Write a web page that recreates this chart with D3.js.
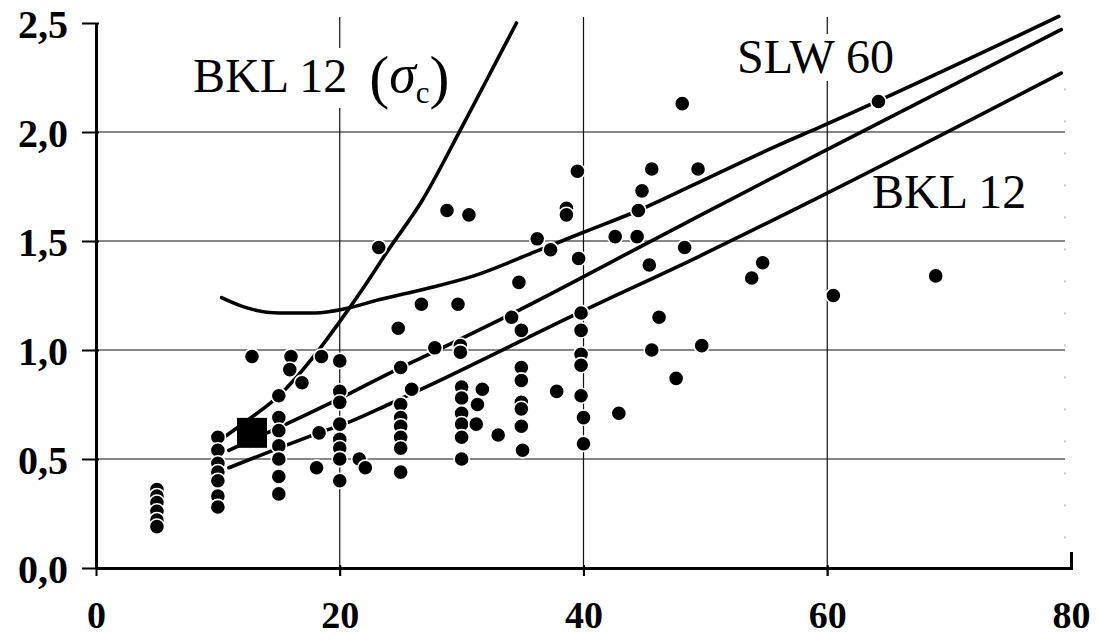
<!DOCTYPE html>
<html>
<head>
<meta charset="utf-8">
<script src="https://cdn.jsdelivr.net/npm/d3@7"></script>
<style>
  body { margin: 0; background: #fff; }
  svg { display: block; }
  text { font-family: "Liberation Serif", "Times New Roman", serif; fill: #000; }
</style>
</head>
<body>
<div id="chart"></div>
<script>
// axis ticks
const xTicks = [0, 20, 40, 60, 80];
const yTicks = [0, 0.5, 1.0, 1.5, 2.0, 2.5];

// measured points [x, y]
const points = [
  [5,0.36],[5,0.33],[5,0.30],[5,0.26],[5,0.22],[5,0.19],
  [10,0.60],[10,0.54],[10,0.48],[10,0.44],[10,0.40],[10,0.33],[10,0.28],
  [12.8,0.97],
  [15,0.79],[15,0.69],[15,0.63],[15,0.56],[15,0.50],[15,0.42],[15,0.34],
  [16,0.97],[15.9,0.91],[16.9,0.85],[18.5,0.97],[18.1,0.46],[18.3,0.62],
  [20,0.95],[20,0.81],[20,0.76],[20,0.66],[20,0.59],[20,0.55],[20,0.50],[20,0.40],
  [21.6,0.50],[22.1,0.46],[23.2,1.47],
  [24.8,1.10],[25,0.92],[25.9,0.82],[25,0.75],[25,0.69],[25,0.65],[25,0.60],[25,0.55],[25,0.44],
  [26.7,1.21],[27.8,1.01],[28.8,1.64],[29.7,1.21],[30.6,1.62],
  [29.9,1.02],[29.9,0.99],[30,0.83],[30,0.78],[30,0.71],[30,0.66],[30,0.60],[30,0.50],
  [31.7,0.82],[31.3,0.75],[31.2,0.66],[33,0.61],
  [34.7,1.31],[34.1,1.15],[34.9,1.09],[34.9,0.92],[34.9,0.86],[34.9,0.76],[34.9,0.73],[34.9,0.65],[35,0.54],
  [36.2,1.51],[37.3,1.46],[37.8,0.81],[38.6,1.65],[38.6,1.62],
  [39.5,1.82],[39.6,1.42],[39.8,1.17],[39.8,1.09],[39.8,0.98],[39.8,0.93],[39.8,0.79],[40,0.69],[40,0.57],
  [42.6,1.52],[42.9,0.71],[44.4,1.52],[44.5,1.64],[44.8,1.73],[45.4,1.39],[45.6,1.83],[45.6,1.00],
  [46.2,1.15],[47.6,0.87],[48.1,2.13],[48.3,1.47],[49.4,1.83],[49.7,1.02],
  [53.8,1.33],[54.7,1.40],[60.5,1.25],[64.2,2.14],[68.9,1.34]
];

// single square marker
const squarePoint = [[12.8, 0.62]];

// curves
const curveSigmaC = [[10.5,0.60],[12.5,0.68],[15,0.79],[18,0.98],[20,1.13],[22,1.29],[24,1.46],[26.7,1.68],[30,2.02],[33,2.34],[34.5,2.50]];
const curveSLW60 = [[10.3,1.24],[12,1.20],[15,1.17],[18,1.17],[20.5,1.19],[23.2,1.23],[27,1.28],[31,1.34],[36,1.45],[40,1.54],[44.5,1.64],[49.5,1.77],[56,1.94],[59.3,2.02],[79,2.53]];
const lineMid = [[10.9,0.54],[15.6,0.66],[20.8,0.80],[24.3,0.90],[27.3,0.98],[33.9,1.16],[45.9,1.51],[59.3,1.90],[79.2,2.47]];
const lineLow = [[10.9,0.46],[15,0.55],[18.3,0.62],[20.8,0.67],[24,0.75],[26.7,0.82],[39.6,1.17],[49.5,1.43],[59.3,1.70],[79.2,2.27]];

const W = 1099, H = 639;
const x = d3.scaleLinear().domain([0, 80]).range([96, 1071]);
const y = d3.scaleLinear().domain([0, 2.5]).range([568, 23]);

const svg = d3.select("#chart").append("svg")
  .attr("width", W).attr("height", H);

// faint right edge
svg.append("line")
  .attr("x1", x(80) - 6).attr("x2", x(80) - 6)
  .attr("y1", y(2.2)).attr("y2", y(0) - 10)
  .attr("stroke", "#999").attr("stroke-width", 1)
  .attr("stroke-dasharray", "2,30");

// grid
svg.append("g").selectAll("line.h")
  .data(yTicks.filter(d => d > 0 && d < 2.5))
  .enter().append("line")
  .attr("x1", x(0)).attr("x2", x(80) - 6)
  .attr("y1", d => y(d)).attr("y2", d => y(d))
  .attr("stroke", "#111").attr("stroke-width", 1.2);

svg.append("g").selectAll("line.v")
  .data(xTicks.filter(d => d > 0 && d < 80))
  .enter().append("line")
  .attr("x1", d => x(d)).attr("x2", d => x(d))
  .attr("y1", y(2.5) - 6).attr("y2", y(0) + 8)
  .attr("stroke", "#111").attr("stroke-width", 1.2);

// labels with white backing so grid is interrupted
function label(g) {
  const b = g.node().getBBox();
  g.insert("rect", ":first-child")
    .attr("x", b.x - 4).attr("y", b.y + 4)
    .attr("width", b.width + 8).attr("height", b.height - 6)
    .attr("fill", "#fff");
}

const l1 = svg.append("g");
const t1 = l1.append("text").attr("x", 193).attr("y", 92).attr("font-size", 48);
t1.append("tspan").text("BKL 12");
t1.append("tspan").attr("dx", 22).attr("font-size", 60).attr("dy", 5).text("(");
t1.append("tspan").attr("font-style", "italic").attr("font-size", 54).attr("dy", -5).text("σ");
t1.append("tspan").attr("font-size", 31).attr("dy", 11).text("c");
t1.append("tspan").attr("font-size", 60).attr("dy", -6).text(")");
label(l1);

const l2 = svg.append("g");
l2.append("text").attr("x", 737).attr("y", 73).attr("font-size", 48).text("SLW 60");
label(l2);

const l3 = svg.append("g");
l3.append("text").attr("x", 872).attr("y", 208).attr("font-size", 48).text("BKL 12");
label(l3);

// curves
const line = d3.line().x(d => x(d[0])).y(d => y(d[1])).curve(d3.curveMonotoneX);
[curveSLW60, lineMid, lineLow, curveSigmaC].forEach(c => {
  svg.append("path").datum(c)
    .attr("d", line)
    .attr("fill", "none").attr("stroke", "#000")
    .attr("stroke-width", 3.6).attr("stroke-linecap", "round");
});

// points
svg.append("g").selectAll("circle")
  .data(points).enter().append("circle")
  .attr("cx", d => x(d[0])).attr("cy", d => y(d[1]))
  .attr("r", 7.6)
  .attr("fill", "#000").attr("stroke", "#fff").attr("stroke-width", 1.6);

const sq = 30;
svg.append("g").selectAll("rect")
  .data(squarePoint).enter().append("rect")
  .attr("x", d => x(d[0]) - sq / 2).attr("y", d => y(d[1]) - sq / 2)
  .attr("width", sq).attr("height", sq).attr("fill", "#000");

// axes
const fmt = d => d.toFixed(1).replace(".", ",");
const yAxis = svg.append("g")
  .attr("transform", `translate(${x(0)},0)`)
  .call(d3.axisLeft(y).tickValues(yTicks).tickFormat(fmt).tickSize(14).tickPadding(14).tickSizeOuter(0));
yAxis.select(".domain").attr("stroke-width", 3);
yAxis.selectAll(".tick line").attr("stroke-width", 2).attr("x2", -14).attr("x1", 3);
yAxis.selectAll(".tick text")
  .attr("font-size", 40).attr("font-weight", "bold")
  .attr("font-family", "Liberation Serif").attr("dy", "0.36em");

const xAxis = svg.append("g")
  .attr("transform", `translate(0,${y(0)})`)
  .call(d3.axisBottom(x).tickValues(xTicks).tickFormat(d3.format("d")).tickSize(8).tickSizeOuter(0).tickPadding(25));
xAxis.select(".domain").attr("stroke-width", 3);
xAxis.selectAll(".tick line").attr("stroke-width", 2).attr("y1", -3);
xAxis.selectAll(".tick").filter(d => d === 80).select("line")
  .attr("y1", -16).attr("y2", 2).attr("stroke-width", 3);
xAxis.selectAll(".tick text")
  .attr("font-size", 38).attr("font-weight", "bold")
  .attr("font-family", "Liberation Serif");
</script>
</body>
</html>
